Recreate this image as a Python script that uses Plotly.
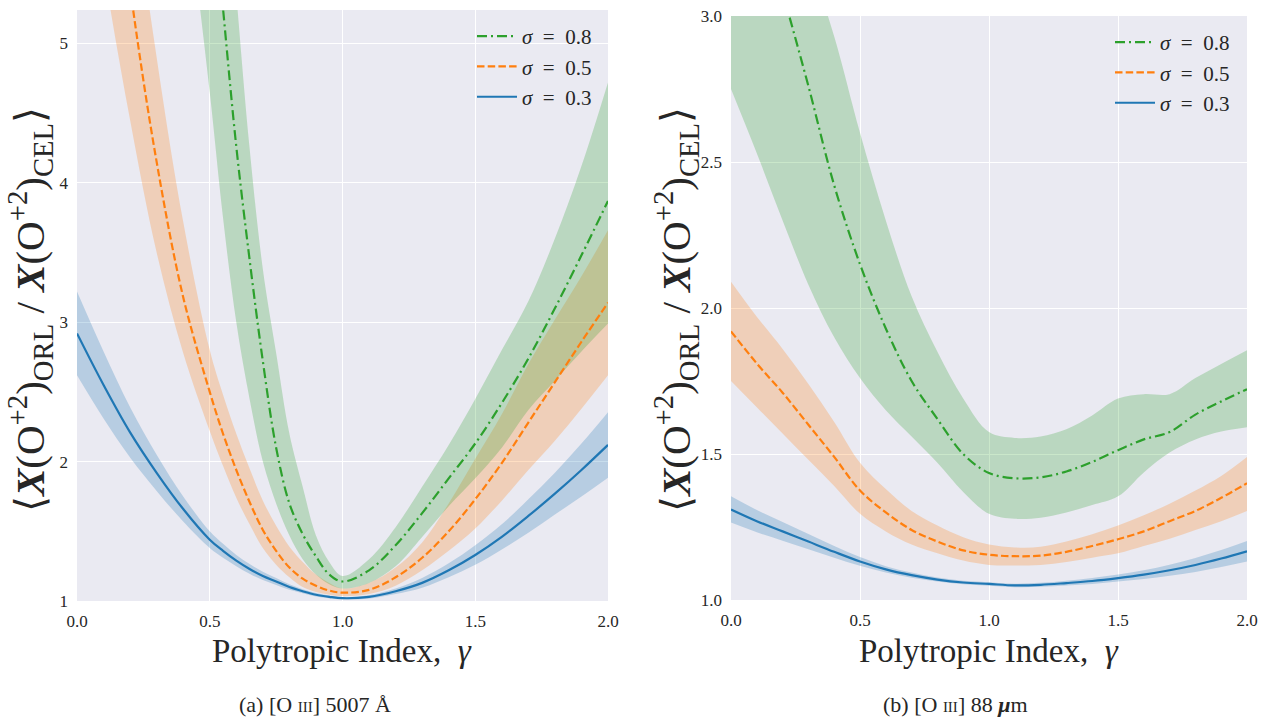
import plotly.graph_objects as go

# ---------------- Panel (a): [O III] 5007 A ----------------
gamma_a = [0.0, 0.1, 0.2, 0.3, 0.4, 0.5, 0.55, 0.6, 0.65, 0.7, 0.75, 0.8, 0.85, 0.9, 0.95,
           1.0, 1.1, 1.2, 1.3, 1.4, 1.5, 1.6, 1.7, 1.8, 1.9, 2.0]

a_s03 = [2.92, 2.55, 2.21, 1.92, 1.66, 1.44, 1.36, 1.29, 1.23, 1.18, 1.14, 1.10, 1.07, 1.045, 1.03,
         1.02, 1.03, 1.07, 1.13, 1.22, 1.33, 1.46, 1.61, 1.77, 1.94, 2.12]
a_s03_hi = [3.22, 2.79, 2.39, 2.05, 1.75, 1.50, 1.41, 1.33, 1.265, 1.21, 1.165, 1.12, 1.085, 1.057, 1.04,
            1.028, 1.042, 1.09, 1.165, 1.27, 1.40, 1.55, 1.73, 1.92, 2.13, 2.355]
a_s03_lo = [2.62, 2.31, 2.03, 1.79, 1.57, 1.38, 1.31, 1.25, 1.195, 1.15, 1.115, 1.08, 1.055, 1.033, 1.02,
            1.012, 1.018, 1.05, 1.095, 1.17, 1.26, 1.37, 1.49, 1.62, 1.75, 1.885]

a_s05 = [8.9, 7.0, 5.4, 4.15, 3.18, 2.5, 2.2, 1.94, 1.71, 1.51, 1.36, 1.24, 1.16, 1.11, 1.075,
         1.06, 1.08, 1.17, 1.31, 1.5, 1.73, 1.99, 2.28, 2.57, 2.86, 3.14]
a_s05_hi = [10.8, 8.3, 6.3, 4.9, 3.72, 2.8, 2.48, 2.2, 1.95, 1.72, 1.54, 1.39, 1.28, 1.19, 1.13,
            1.09, 1.13, 1.24, 1.42, 1.7, 2.02, 2.34, 2.7, 3.02, 3.33, 3.66]
a_s05_lo = [6.9, 5.55, 4.45, 3.5, 2.78, 2.22, 1.97, 1.74, 1.55, 1.38, 1.26, 1.17, 1.10, 1.065, 1.045,
            1.035, 1.05, 1.11, 1.22, 1.36, 1.52, 1.72, 1.94, 2.15, 2.38, 2.62]

a_s08 = [24.0, 19.0, 14.5, 11.0, 8.3, 6.3, 5.25, 4.26, 3.45, 2.72, 2.1, 1.7, 1.48, 1.32, 1.19,
         1.14, 1.22, 1.4, 1.63, 1.88, 2.13, 2.42, 2.74, 3.1, 3.48, 3.87]
a_s08_hi = [30.0, 24.0, 19.0, 14.5, 10.5, 7.8, 6.5, 5.35, 4.25, 3.38, 2.78, 2.2, 1.82, 1.47, 1.28,
            1.18, 1.3, 1.53, 1.82, 2.12, 2.45, 2.8, 3.15, 3.6, 4.12, 4.72]
a_s08_lo = [17.0, 13.5, 10.5, 8.2, 6.3, 4.65, 3.75, 3.0, 2.45, 2.0, 1.7, 1.47, 1.3, 1.19, 1.12,
            1.09, 1.13, 1.25, 1.46, 1.68, 1.88, 2.1, 2.37, 2.58, 2.79, 2.99]

# ---------------- Panel (b): [O III] 88 micron ----------------
gamma_b = [0.0, 0.1, 0.2, 0.3, 0.4, 0.5, 0.6, 0.7, 0.8, 0.9, 1.0,
           1.1, 1.2, 1.3, 1.4, 1.5, 1.6, 1.7, 1.8, 1.9, 2.0]

b_s03 = [1.31, 1.27, 1.235, 1.2, 1.165, 1.132, 1.105, 1.085, 1.07, 1.06, 1.055,
         1.05, 1.052, 1.058, 1.065, 1.075, 1.087, 1.102, 1.12, 1.142, 1.167]
b_s03_hi = [1.355, 1.308, 1.267, 1.226, 1.185, 1.147, 1.116, 1.094, 1.077, 1.066, 1.061,
            1.056, 1.059, 1.066, 1.075, 1.087, 1.102, 1.121, 1.144, 1.171, 1.202]
b_s03_lo = [1.265, 1.232, 1.203, 1.174, 1.145, 1.117, 1.094, 1.076, 1.063, 1.054, 1.049,
            1.044, 1.045, 1.05, 1.055, 1.063, 1.072, 1.083, 1.096, 1.113, 1.132]

b_s05 = [1.92, 1.81, 1.71, 1.6, 1.49, 1.375, 1.3, 1.24, 1.2, 1.17, 1.155,
         1.15, 1.152, 1.165, 1.185, 1.208, 1.235, 1.27, 1.305, 1.35, 1.40]
b_s05_hi = [2.09, 1.97, 1.86, 1.74, 1.61, 1.47, 1.38, 1.305, 1.255, 1.215, 1.19,
            1.18, 1.182, 1.2, 1.225, 1.255, 1.29, 1.33, 1.375, 1.425, 1.49]
b_s05_lo = [1.75, 1.66, 1.57, 1.48, 1.39, 1.295, 1.235, 1.19, 1.16, 1.135, 1.12,
            1.118, 1.12, 1.13, 1.145, 1.16, 1.185, 1.21, 1.24, 1.27, 1.305]

b_s08 = [3.72, 3.38, 3.08, 2.76, 2.42, 2.15, 1.93, 1.75, 1.62, 1.5, 1.435,
         1.417, 1.42, 1.44, 1.473, 1.513, 1.55, 1.575, 1.635, 1.68, 1.722]
b_s08_hi = [4.0, 3.7, 3.45, 3.2, 2.93, 2.6, 2.3, 2.04, 1.85, 1.69, 1.575,
            1.555, 1.56, 1.585, 1.632, 1.69, 1.705, 1.705, 1.76, 1.808, 1.855]
b_s08_lo = [2.75, 2.53, 2.3, 2.08, 1.9, 1.76, 1.65, 1.56, 1.47, 1.37, 1.295,
            1.278, 1.282, 1.3, 1.325, 1.355, 1.437, 1.505, 1.55, 1.577, 1.592]

sigma_labels = ["0.3", "0.5", "0.8"]

# ---------------- Styling ----------------
COLORS = ["#1f77b4", "#ff7f0e", "#2ca02c"]
FILLS = ["rgba(31,119,180,0.25)", "rgba(255,127,14,0.25)", "rgba(44,160,44,0.25)"]
DASHES = ["solid", "7.5px,3.2px", "10px,4px,2px,4px"]
FONT = "Liberation Serif, DejaVu Serif, serif"
BG = "#EAEAF2"

fig = go.Figure()

panels = [
    ("x", "y", "legend", gamma_a,
     [(a_s03, a_s03_lo, a_s03_hi), (a_s05, a_s05_lo, a_s05_hi), (a_s08, a_s08_lo, a_s08_hi)]),
    ("x2", "y2", "legend2", gamma_b,
     [(b_s03, b_s03_lo, b_s03_hi), (b_s05, b_s05_lo, b_s05_hi), (b_s08, b_s08_lo, b_s08_hi)]),
]

for xa, ya, leg, xs, series in panels:
    for i, (mid, lo, hi) in enumerate(series):
        fig.add_trace(go.Scatter(x=xs, y=lo, xaxis=xa, yaxis=ya, mode="lines",
                                 line=dict(width=0, shape="spline", color=COLORS[i]),
                                 showlegend=False, hoverinfo="skip"))
        fig.add_trace(go.Scatter(x=xs, y=hi, xaxis=xa, yaxis=ya, mode="lines",
                                 line=dict(width=0, shape="spline", color=COLORS[i]),
                                 fill="tonexty", fillcolor=FILLS[i],
                                 showlegend=False, hoverinfo="skip"))
    for i, (mid, lo, hi) in enumerate(series):
        fig.add_trace(go.Scatter(x=xs, y=mid, xaxis=xa, yaxis=ya, mode="lines",
                                 line=dict(width=2.2, shape="spline", color=COLORS[i], dash=DASHES[i]),
                                 name="<i>σ</i>\u2002=\u2002" + sigma_labels[i], legend=leg))

W, H = 1266, 717
def px_x(p):
    return p / W
def px_y(p):
    return 1 - p / H

axis_common = dict(showgrid=True, gridcolor="white", gridwidth=1, zeroline=False,
                   showline=False, ticks="", automargin=False, ticklabelstandoff=8,
                   tickfont=dict(family=FONT, size=17, color="#262626"))

fig.update_layout(
    width=W, height=H,
    margin=dict(l=0, r=0, t=0, b=0),
    paper_bgcolor="white", plot_bgcolor=BG,
    font=dict(family=FONT, color="#262626"),
    xaxis=dict(domain=[px_x(77), px_x(608)], range=[0, 2], tickvals=[0, 0.5, 1.0, 1.5, 2.0],
               ticktext=["0.0", "0.5", "1.0", "1.5", "2.0"], anchor="y", **axis_common),
    yaxis=dict(domain=[px_y(601), px_y(10)], range=[1, 5.24], tickvals=[1, 2, 3, 4, 5],
               ticktext=["1", "2", "3", "4", "5"], anchor="x", **axis_common),
    xaxis2=dict(domain=[px_x(731), px_x(1247)], range=[0, 2], tickvals=[0, 0.5, 1.0, 1.5, 2.0],
                ticktext=["0.0", "0.5", "1.0", "1.5", "2.0"], anchor="y2", **axis_common),
    yaxis2=dict(domain=[px_y(600), px_y(16)], range=[1, 3], tickvals=[1, 1.5, 2, 2.5, 3],
                ticktext=["1.0", "1.5", "2.0", "2.5", "3.0"], anchor="x2", **axis_common),
    legend=dict(x=px_x(597), y=px_y(16), xanchor="right", yanchor="top",
                traceorder="reversed", bgcolor="rgba(0,0,0,0)", itemwidth=40,
                font=dict(family=FONT, size=21, color="#262626")),
    legend2=dict(x=px_x(1235), y=px_y(22), xanchor="right", yanchor="top",
                 traceorder="reversed", bgcolor="rgba(0,0,0,0)", itemwidth=40,
                 font=dict(family=FONT, size=21, color="#262626")),
)

ytitle = ("⟨<b><i>X</i></b>(O<sup>+2</sup>)<sub>ORL</sub> / "
          "<b><i>X</i></b>(O<sup>+2</sup>)<sub>CEL</sub>⟩")
xtitle = "Polytropic Index,  <i>γ</i>"

annots = [
    dict(text=ytitle, x=px_x(30), y=px_y(310), textangle=-90, size=41),
    dict(text=ytitle, x=px_x(676), y=px_y(310), textangle=-90, size=41),
    dict(text=xtitle, x=px_x(342), y=px_y(651), size=33),
    dict(text=xtitle, x=px_x(989), y=px_y(651), size=33),
    dict(text="(a) [O <span style='font-size:15px'>III</span>] 5007 Å",
         x=px_x(315), y=px_y(704), size=22),
    dict(text="(b) [O <span style='font-size:15px'>III</span>] 88 <b><i>μ</i></b>m",
         x=px_x(955), y=px_y(704), size=22),
]
for a in annots:
    fig.add_annotation(xref="paper", yref="paper", showarrow=False,
                       xanchor="center", yanchor="middle",
                       font=dict(family=FONT, color="#262626", size=a["size"]),
                       text=a["text"], x=a["x"], y=a["y"],
                       textangle=a.get("textangle", 0))

fig.write_html("out.html", config={"displayModeBar": False},
               post_script="document.body.style.margin='0';document.body.style.overflow='hidden';")
